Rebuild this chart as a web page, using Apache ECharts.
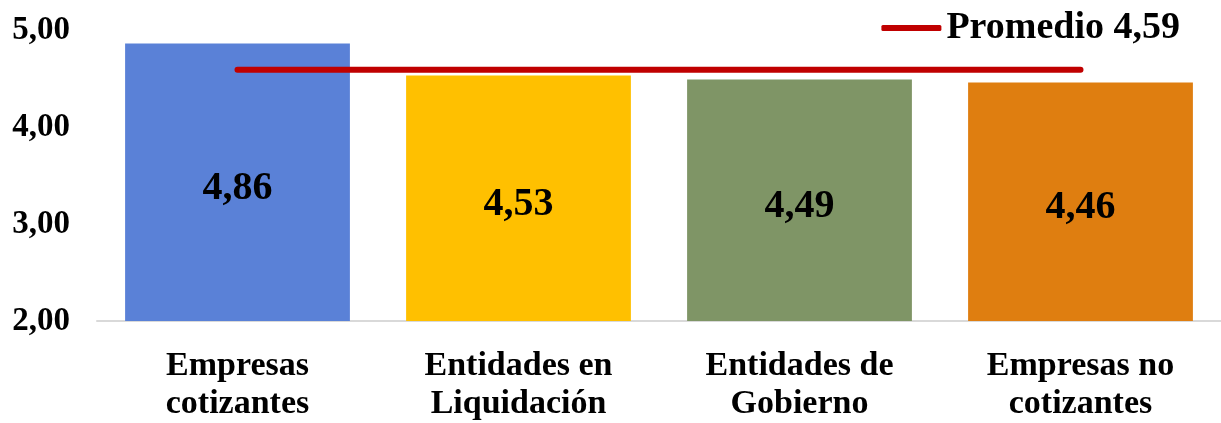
<!DOCTYPE html>
<html>
<head>
<meta charset="utf-8">
<script src="https://cdn.jsdelivr.net/npm/echarts@6/dist/echarts.min.js"></script>
<style>
  html, body { margin: 0; padding: 0; background: #ffffff; }
  #chart { width: 1221px; height: 423px; }
</style>
</head>
<body>
<div id="chart"></div>
<script>
// Índice promedio por tipo de entidad
const categories = ['Empresas\ncotizantes', 'Entidades en\nLiquidación', 'Entidades de\nGobierno', 'Empresas no\ncotizantes'];
const values = [4.86, 4.53, 4.49, 4.46];
const promedio = 4.59;
const promedioNombre = 'Promedio 4,59';
const yTicks = [2, 3, 4, 5];

const barColors = ['#5A81D7', '#FFC000', '#7F9566', '#DF7E10'];
const lineColor = '#C00000';
const serif = '"Liberation Serif", "Times New Roman", serif';

const fmt = v => v.toFixed(2).replace('.', ',');

const chart = echarts.init(document.getElementById('chart'));
chart.setOption({
  animation: false,
  backgroundColor: '#ffffff',
  grid: { left: 97, right: -2, top: 30, bottom: 98 },
  legend: {
    data: [{ name: promedioNombre, icon: 'roundRect' }],
    right: 36, top: 4,
    itemWidth: 60, itemHeight: 6, itemGap: 6,
    textStyle: { fontFamily: serif, fontWeight: 'bold', fontSize: 38, color: '#000' }
  },
  xAxis: {
    type: 'category',
    data: categories,
    axisLine: { lineStyle: { color: '#D9D9D9', width: 2 } },
    axisTick: { show: false },
    axisLabel: {
      margin: 26,
      fontFamily: serif, fontWeight: 'bold', fontSize: 34, lineHeight: 38, color: '#000'
    }
  },
  yAxis: {
    type: 'value',
    min: yTicks[0], max: yTicks[yTicks.length - 1], interval: 1,
    splitLine: { show: false },
    axisLine: { show: false },
    axisTick: { show: false },
    axisLabel: {
      margin: 27,
      padding: [4, 0, 0, 0],
      formatter: v => fmt(v),
      fontFamily: serif, fontWeight: 'bold', fontSize: 33, color: '#000'
    }
  },
  series: [
    {
      type: 'bar',
      barCategoryGap: '20%',
      data: values.map((v, i) => ({ value: v, itemStyle: { color: barColors[i] } })),
      label: {
        show: true, position: 'inside', offset: [0, 6],
        formatter: p => fmt(p.value),
        fontFamily: serif, fontWeight: 'bold', fontSize: 40, color: '#000'
      }
    },
    {
      name: promedioNombre,
      type: 'line',
      data: values.map(() => promedio),
      symbol: 'none',
      color: lineColor,
      lineStyle: { color: lineColor, width: 6, cap: 'round' },
      z: 5
    }
  ]
});
</script>
</body>
</html>
